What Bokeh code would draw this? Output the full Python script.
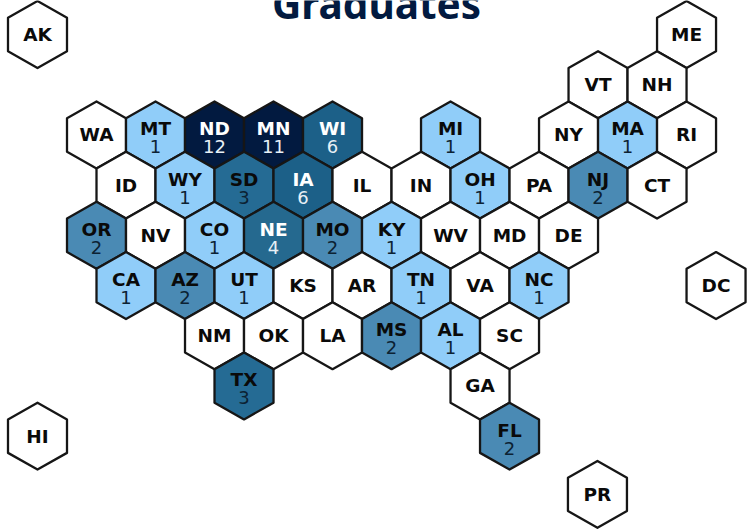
import numpy as np
from bokeh.embed import file_html
from bokeh.resources import INLINE
from bokeh.plotting import figure
from bokeh.models import ColumnDataSource, Range1d
from bokeh.core.properties import value
from bokeh.util.hex import axial_to_cartesian

TITLE = "Graduates"
states = ["AK","ME","VT","NH","WA","MT","ND","MN","WI","MI","NY","MA","RI",
          "ID","WY","SD","IA","IL","IN","OH","PA","NJ","CT",
          "OR","NV","CO","NE","MO","KY","WV","MD","DE",
          "CA","AZ","UT","KS","AR","TN","VA","NC","DC",
          "NM","OK","LA","MS","AL","SC","TX","GA","FL","HI","PR"]
grads = [0,0,0,0,0,1,12,11,6,1,0,1,0,
         0,1,3,6,0,0,1,0,2,0,
         2,0,1,4,2,1,0,0,0,
         1,2,1,0,0,1,0,1,0,
         0,0,0,2,1,0,3,0,2,0,0]
q = [0,11,9,10,0,1,2,3,4,6,8,9,10,
     0,1,2,3,4,5,6,7,8,9,
     -1,0,1,2,3,4,5,6,7,
     -1,0,1,2,3,4,5,6,9,
     0,1,2,3,4,5,0,4,4,-4,4.91]
r = [0,0,1,1,2,2,2,2,2,2,2,2,2,
     3,3,3,3,3,3,3,3,3,3,
     4,4,4,4,4,4,4,4,4,
     5,5,5,5,5,5,5,5,5,
     6,6,6,6,6,6,7,7,8,8,9.16]
palette = {0:"#ffffff",1:"#90cdf9",2:"#4a8ab4",3:"#256b94",4:"#25698f",6:"#1c6088",11:"#021a40",12:"#021a40"}
light_text = {4,6,11,12}

SIZE = 33.47
ASPECT = 0.9825
X0, Y0 = 37, 34
W, H = 752, 529

fills = [palette[g] for g in grads]
label_colors = ["#ffffff" if g in light_text else "#0a0a0a" for g in grads]
value_colors = ["#e8f0f6" if g in light_text else "#0c2233" for g in grads]
vlabels = [str(g) if g else "" for g in grads]
x, y = axial_to_cartesian(np.array(q), np.array(r), SIZE, "pointytop", aspect_scale=ASPECT)

src = ColumnDataSource(dict(q=q, r=r, fill=fills, x=x, y=y, st=states, val=vlabels,
                            lc=label_colors, vc=value_colors,
                            off=[-6 if g else 0 for g in grads]))

p = figure(width=W, height=H, output_backend="svg", toolbar_location=None,
           x_range=Range1d(-X0, W-X0), y_range=Range1d(Y0-H, Y0),
           min_border=0)
p.axis.visible = False
p.grid.visible = False
p.outline_line_color = None
p.background_fill_color = "#ffffff"

p.hex_tile(q="q", r="r", size=SIZE, aspect_scale=ASPECT, orientation="pointytop", source=src,
           fill_color="fill", line_color="#161616", line_width=2.3, line_join="round")
p.text(x="x", y="y", text="st", source=src, y_offset="off", text_color="lc",
       text_font=value("DejaVu Sans"), text_font_style="bold", text_font_size="18.5px",
       text_align="center", text_baseline="middle")
p.text(x="x", y="y", text="val", source=src, y_offset=12, text_color="vc",
       text_font=value("DejaVu Sans"), text_font_size="18px",
       text_align="center", text_baseline="middle")
p.text(x=[376-X0], y=[Y0-3], text=[TITLE], text_color="#021a40",
       text_font=value("Noto Sans"), text_font_style="bold", text_font_size="40.5px",
       text_align="center", text_baseline="alphabetic")

open("out.html", "w").write(file_html(p, INLINE))
